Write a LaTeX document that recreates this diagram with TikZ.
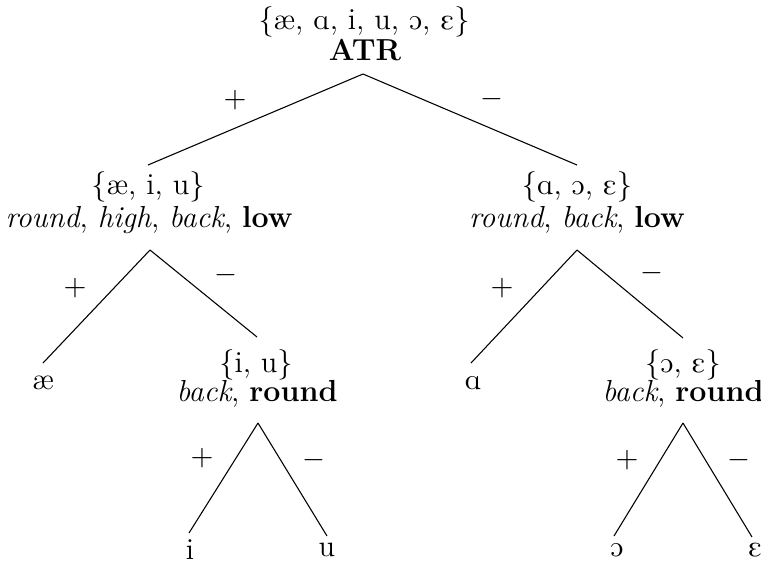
\documentclass[tikz,border=0pt]{standalone}
\usepackage{tipa}
\begin{document}
\begin{tikzpicture}[x=0.3717pt,y=-0.3717pt,
  every node/.style={font=\fontsize{11.3}{13.6}\selectfont},
  txt/.style={inner sep=0pt},
  sgn/.style={inner sep=0pt},
  branch/.style={line width=0.4pt}]
\useasboundingbox (0,0) rectangle (761,565);
% root
\node[txt] (r1) at (364,22) {\{\ae, \textipa{A}, i, u, \textipa{O}, \textipa{E}\}};
\node[txt] (r2) at (365,50) {\textbf{ATR}};
\coordinate (rb) at (363,74);
% level 1
\coordinate (lt) at (148,165);
\coordinate (rt) at (577,165);
\node[txt] (l1) at (148,187) {\{\ae, i, u\}};
\node[txt] (l2) at (149,220) {\textit{round}, \textit{high}, \textit{back}, \textbf{low}};
\node[txt] (q1) at (577,187) {\{\textipa{A}, \textipa{O}, \textipa{E}\}};
\node[txt] (q2) at (577,220) {\textit{round}, \textit{back}, \textbf{low}};
\draw[branch] (rb) -- (lt);
\draw[branch] (rb) -- (rt);
\node[sgn] (p0) at (235,100) {$+$};
\node[sgn] (m0) at (492,99) {$-$};
% left subtree
\coordinate (lb) at (150,250);
\coordinate (aet) at (43,363);
\coordinate (iut) at (257,337);
\draw[branch] (lb) -- (aet);
\draw[branch] (lb) -- (iut);
\node[sgn] (p1) at (75,288) {$+$};
\node[sgn] (m1) at (226,275) {$-$};
\node[txt] (ae) at (43,383) {\ae};
\node[txt] (iu1) at (256,365) {\{i, u\}};
\node[txt] (iu2) at (257,394) {\textit{back}, \textbf{round}};
\coordinate (iub) at (258,423);
\coordinate (it) at (189,533);
\coordinate (ut) at (327,536);
\draw[branch] (iub) -- (it);
\draw[branch] (iub) -- (ut);
\node[sgn] (p2) at (202,458) {$+$};
\node[sgn] (m2) at (314,460) {$-$};
\node[txt] (i) at (190,550) {i};
\node[txt] (u) at (327,550) {u};
% right subtree
\coordinate (qb) at (577,250);
\coordinate (at) at (471,363);
\coordinate (oet) at (683,338);
\draw[branch] (qb) -- (at);
\draw[branch] (qb) -- (oet);
\node[sgn] (p3) at (502,288) {$+$};
\node[sgn] (m3) at (652,273) {$-$};
\node[txt] (a) at (473,383) {\textipa{A}};
\node[txt] (oe1) at (683,365) {\{\textipa{O}, \textipa{E}\}};
\node[txt] (oe2) at (683,394) {\textit{back}, \textbf{round}};
\coordinate (oeb) at (683,423);
\coordinate (ot) at (614,536);
\coordinate (et) at (752,537);
\draw[branch] (oeb) -- (ot);
\draw[branch] (oeb) -- (et);
\node[sgn] (p4) at (627,460) {$+$};
\node[sgn] (m4) at (739,460) {$-$};
\node[txt] (o) at (617,550) {\textipa{O}};
\node[txt] (e) at (755,550) {\textipa{E}};
\end{tikzpicture}
\end{document}
